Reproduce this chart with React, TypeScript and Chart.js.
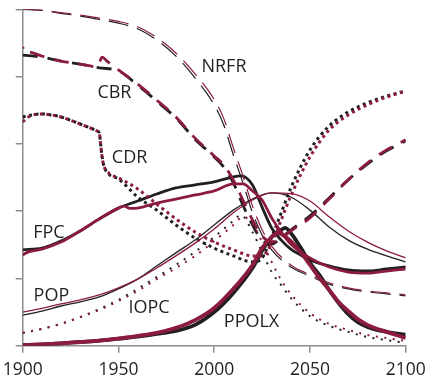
import { useEffect, useRef } from "react";
import { Chart, registerables } from "chart.js";

Chart.register(...registerables);

const INK = "#231f20";
const WINE = "#8c1c3e";
const AXIS = "#8c8c8c";
const FONT = "'Open Sans', 'Noto Sans', sans-serif";

const X_TICKS = [1900, 1950, 2000, 2050, 2100];
const Y_TICKS = [0, 20, 40, 60, 80, 100];

// Non-renewable resources fraction remaining
const NRFR_YEARS = [1900, 1910, 1920, 1930, 1940, 1950, 1960, 1970, 1980, 1990, 2000, 2005, 2010, 2015, 2020, 2025, 2030, 2040, 2050, 2060, 2070, 2080, 2090, 2100];
const NRFR_BLACK = [100, 99.7, 98.8, 98.0, 97.0, 95.9, 94.2, 90.9, 86.1, 79.6, 71.6, 65.6, 56.7, 48.4, 39.5, 32.9, 28.5, 23.4, 20.7, 18.3, 16.9, 16.0, 15.4, 14.8];
const NRFR_RED = [100, 99.8, 99.0, 98.3, 97.4, 96.4, 94.8, 91.6, 87.0, 80.8, 73.2, 67.5, 58.8, 50.5, 41.5, 34.5, 29.6, 24.0, 21.1, 18.7, 17.2, 16.3, 15.7, 15.1];

// Crude birth rate
const CBR_BLACK_YEARS = [1900, 1910, 1920, 1930, 1940, 1950, 1960, 1970, 1980, 1990, 2000, 2005, 2010, 2015, 2020, 2025, 2030, 2035, 2040, 2050, 2060, 2070, 2080, 2090, 2100];
const CBR_BLACK = [86.4, 85.8, 84.6, 83.7, 82.6, 81.7, 77.5, 72.7, 67.7, 61.4, 56.1, 53.1, 48.4, 41.8, 35.9, 31.4, 30.2, 32.0, 34.4, 38.6, 43.9, 49.3, 54.0, 57.9, 60.9];
const CBR_RED_YEARS = [1900, 1901, 1903, 1910, 1920, 1930, 1939, 1941.5, 1944, 1950, 1960, 1970, 1980, 1990, 2000, 2005, 2010, 2015, 2020, 2025, 2030, 2035, 2040, 2050, 2060, 2070, 2080, 2090, 2100];
const CBR_RED = [88.8, 87.0, 87.3, 86.1, 84.6, 83.7, 82.9, 85.8, 84.6, 82.0, 77.8, 73.0, 68.0, 61.7, 56.4, 53.7, 49.3, 43.3, 37.4, 32.6, 30.8, 32.0, 34.1, 38.0, 43.6, 49.3, 54.3, 58.2, 61.2];

// Crude death rate
const CDR_BLACK_YEARS = [1900, 1905, 1910, 1915, 1920, 1930, 1939, 1940, 1941, 1942, 1945, 1950, 1960, 1970, 1980, 1990, 2000, 2010, 2020, 2025, 2030, 2035, 2040, 2050, 2060, 2070, 2080, 2090, 2100];
const CDR_BLACK = [68.0, 68.6, 68.9, 68.6, 68.0, 65.9, 63.8, 63.2, 58.2, 54.3, 51.0, 49.6, 44.2, 40.3, 35.9, 32.0, 29.0, 26.7, 24.9, 26.1, 32.3, 39.5, 46.9, 58.2, 65.3, 69.5, 72.2, 74.2, 75.7];
const CDR_RED_YEARS = [1900, 1903, 1910, 1915, 1920, 1930, 1939, 1940, 1941, 1942, 1945, 1950, 1960, 1970, 1980, 1990, 2000, 2010, 2020, 2025, 2030, 2035, 2040, 2050, 2060, 2070, 2080, 2090, 2100];
const CDR_RED = [66.5, 68.0, 68.9, 68.6, 68.0, 65.9, 63.8, 63.2, 58.2, 54.3, 51.3, 49.9, 46.6, 42.1, 37.7, 33.8, 30.8, 28.5, 26.7, 26.7, 30.5, 37.4, 44.5, 56.1, 64.1, 68.6, 71.6, 73.9, 75.7];

// Food per capita
const FPC_BLACK_YEARS = [1900, 1910, 1920, 1930, 1940, 1950, 1960, 1970, 1980, 1990, 2000, 2010, 2014, 2020, 2025, 2030, 2035, 2040, 2045, 2050, 2060, 2070, 2080, 2090, 2100];
const FPC_BLACK = [28.5, 29.0, 31.1, 34.1, 37.7, 40.9, 43.0, 45.1, 46.9, 47.8, 48.7, 50.2, 50.5, 47.8, 41.2, 35.0, 31.4, 28.7, 27.0, 25.5, 23.7, 22.5, 22.2, 22.8, 23.4];
const FPC_RED_YEARS = [1900, 1903, 1910, 1920, 1930, 1940, 1950, 1953, 1956, 1960, 1970, 1980, 1990, 2000, 2010, 2015, 2020, 2025, 2030, 2035, 2040, 2045, 2050, 2060, 2070, 2080, 2090, 2100];
const FPC_RED = [27.0, 27.9, 28.7, 30.8, 34.1, 37.7, 40.9, 41.5, 40.8, 40.9, 42.4, 43.6, 44.8, 46.0, 48.1, 48.1, 46.0, 43.3, 38.0, 33.8, 30.2, 27.9, 26.1, 23.4, 21.9, 21.6, 22.2, 22.8];

// Population
const POP_YEARS = [1900, 1910, 1920, 1930, 1940, 1950, 1960, 1970, 1980, 1990, 2000, 2010, 2020, 2030, 2040, 2050, 2060, 2070, 2080, 2090, 2100];
const POP_BLACK = [9.1, 10.3, 11.8, 13.0, 14.5, 16.9, 19.8, 23.7, 27.6, 31.4, 35.9, 40.3, 43.6, 45.4, 44.2, 40.3, 35.3, 31.4, 28.7, 26.7, 24.9];
const POP_RED = [10.0, 11.1, 12.4, 13.6, 15.1, 17.2, 19.8, 23.1, 26.7, 30.5, 34.7, 39.5, 43.3, 45.4, 45.2, 43.0, 38.3, 34.1, 30.8, 28.2, 26.1];

// Industrial output per capita
const IOPC_BLACK_YEARS = [1900, 1910, 1920, 1930, 1940, 1950, 1960, 1970, 1980, 1990, 2000, 2010, 2014, 2020, 2025, 2030, 2035, 2040, 2050, 2060, 2070, 2080, 2090, 2100];
const IOPC_BLACK = [3.8, 5.0, 6.5, 8.5, 10.9, 13.6, 16.9, 20.4, 24.0, 27.9, 32.3, 37.1, 38.9, 33.8, 27.9, 21.9, 18.0, 14.2, 8.8, 5.9, 4.1, 2.6, 1.7, 0.8];
const IOPC_RED_YEARS = [1900, 1910, 1920, 1930, 1940, 1950, 1960, 1970, 1980, 1990, 2000, 2010, 2015, 2020, 2025, 2030, 2035, 2040, 2050, 2060, 2070, 2080, 2090, 2100];
const IOPC_RED = [3.8, 5.0, 6.5, 8.5, 10.6, 13.3, 16.3, 19.8, 23.1, 26.7, 31.1, 35.9, 38.3, 36.2, 30.8, 24.9, 19.5, 15.4, 9.7, 6.5, 4.7, 3.2, 2.3, 1.4];

// Persistent pollution index
const PPOLX_BLACK_YEARS = [1900, 1910, 1920, 1930, 1940, 1950, 1960, 1970, 1980, 1990, 2000, 2010, 2020, 2025, 2030, 2035, 2037, 2040, 2045, 2050, 2055, 2060, 2065, 2070, 2075, 2080, 2090, 2100];
const PPOLX_BLACK = [0.2, 0.4, 0.7, 1.1, 1.5, 2.1, 2.7, 3.5, 4.4, 6.2, 10.0, 15.7, 23.1, 28.2, 32.3, 34.4, 35.0, 33.5, 29.3, 24.6, 21.0, 16.6, 12.7, 9.4, 7.0, 5.6, 4.1, 3.2];
const PPOLX_RED_YEARS = [1900, 1910, 1920, 1930, 1940, 1950, 1960, 1970, 1980, 1990, 2000, 2010, 2020, 2025, 2030, 2033, 2035, 2040, 2045, 2050, 2055, 2060, 2065, 2070, 2075, 2080, 2090, 2100];
const PPOLX_RED = [0.2, 0.4, 0.7, 1.1, 1.5, 2.1, 2.9, 3.8, 5.3, 7.6, 11.2, 16.9, 24.0, 29.0, 32.3, 33.5, 33.2, 31.1, 27.9, 24.0, 20.1, 16.6, 13.0, 10.3, 7.9, 6.2, 4.1, 2.3];

// Series names written next to their curves, anchored at (year, value)
const LABELS = ["NRFR", "CBR", "CDR", "FPC", "POP", "IOPC", "PPOLX"];
const LABEL_YEARS = [2005.1, 1947.9, 1955.8, 1913.7, 1915.0, 1966.0, 2019.5];
const LABEL_VALUES = [83.4, 75.6, 56.2, 34.0, 15.2, 11.7, 7.6];

type Style = { width: number; dash: number[]; offset?: number };

const points = (years: number[], values: number[]) =>
  years.map((x, i) => ({ x, y: values[i] }));

const line = (
  years: number[],
  values: number[],
  color: string,
  style: Style,
  order: number
) => ({
  data: points(years, values),
  borderColor: color,
  borderWidth: style.width,
  borderDash: style.dash,
  borderDashOffset: style.offset ?? 0,
  borderCapStyle: "butt" as const,
  borderJoinStyle: "round" as const,
  pointRadius: 0,
  fill: false,
  cubicInterpolationMode: "monotone" as const,
  order,
});

const NRFR_STYLE: Style = { width: 1.2, dash: [20, 9] };
const CBR_STYLE: Style = { width: 2.8, dash: [15, 10] };
const CDR_STYLE: Style = { width: 3, dash: [3, 3.5] };
const FPC_STYLE: Style = { width: 2.8, dash: [] };
const POP_STYLE: Style = { width: 1.3, dash: [] };
const IOPC_STYLE: Style = { width: 2, dash: [2, 6.5] };
const PPOLX_STYLE: Style = { width: 3.8, dash: [] };

const seriesLabels = {
  id: "seriesLabels",
  afterDatasetsDraw(chart: Chart) {
    const { ctx } = chart;
    const xs = chart.scales.x;
    const ys = chart.scales.y;
    ctx.save();
    ctx.font = `18px ${FONT}`;
    ctx.fillStyle = INK;
    ctx.textAlign = "center";
    ctx.textBaseline = "alphabetic";
    LABELS.forEach((text, i) => {
      const m = ctx.measureText(text);
      const cx = xs.getPixelForValue(LABEL_YEARS[i]);
      const cy = ys.getPixelForValue(LABEL_VALUES[i]);
      ctx.fillText(
        text,
        cx,
        cy + (m.actualBoundingBoxAscent - m.actualBoundingBoxDescent) / 2
      );
    });
    ctx.restore();
  },
};

export default function App() {
  const ref = useRef<HTMLCanvasElement>(null);

  useEffect(() => {
    if (!ref.current) return;
    const chart = new Chart(ref.current, {
      type: "line",
      data: {
        datasets: [
          line(NRFR_YEARS, NRFR_BLACK, INK, NRFR_STYLE, 2),
          line(CBR_BLACK_YEARS, CBR_BLACK, INK, CBR_STYLE, 2),
          line(CDR_BLACK_YEARS, CDR_BLACK, INK, CDR_STYLE, 2),
          line(FPC_BLACK_YEARS, FPC_BLACK, INK, FPC_STYLE, 2),
          line(POP_YEARS, POP_BLACK, INK, POP_STYLE, 2),
          line(IOPC_BLACK_YEARS, IOPC_BLACK, INK, IOPC_STYLE, 2),
          line(PPOLX_BLACK_YEARS, PPOLX_BLACK, INK, PPOLX_STYLE, 2),
          line(NRFR_YEARS, NRFR_RED, WINE, NRFR_STYLE, 1),
          line(CBR_RED_YEARS, CBR_RED, WINE, { ...CBR_STYLE, offset: 13 }, 1),
          line(CDR_RED_YEARS, CDR_RED, WINE, CDR_STYLE, 1),
          line(FPC_RED_YEARS, FPC_RED, WINE, FPC_STYLE, 1),
          line(POP_YEARS, POP_RED, WINE, POP_STYLE, 1),
          line(IOPC_RED_YEARS, IOPC_RED, WINE, IOPC_STYLE, 1),
          line(PPOLX_RED_YEARS, PPOLX_RED, WINE, PPOLX_STYLE, 1),
        ],
      },
      options: {
        animation: false,
        responsive: false,
        devicePixelRatio: 1,
        layout: { padding: { left: 0, right: 21.3, top: 9.3, bottom: 0 } },
        plugins: {
          legend: { display: false },
          tooltip: { enabled: false },
        },
        scales: {
          x: {
            type: "linear",
            min: 1900,
            max: 2100,
            afterBuildTicks: (scale: any) => {
              scale.ticks = X_TICKS.map((value) => ({ value }));
            },
            afterFit: (scale: any) => {
              scale.height = 38.3;
              scale.paddingLeft = 0;
              scale.paddingRight = 0;
            },
            ticks: {
              autoSkip: false,
              maxRotation: 0,
              padding: 7,
              color: INK,
              font: { family: FONT, size: 17.5 },
              callback: (v: any) => String(v),
            },
            grid: {
              drawOnChartArea: false,
              drawTicks: true,
              tickLength: 7,
              color: AXIS,
              lineWidth: 1.5,
            },
            border: { display: true, color: AXIS, width: 1.5 },
          },
          y: {
            min: 0,
            max: 100,
            afterBuildTicks: (scale: any) => {
              scale.ticks = Y_TICKS.map((value) => ({ value }));
            },
            afterFit: (scale: any) => {
              scale.width = 22.7;
              scale.paddingTop = 0;
              scale.paddingBottom = 0;
            },
            ticks: { display: false },
            grid: {
              drawOnChartArea: false,
              drawTicks: true,
              tickLength: 7,
              color: AXIS,
              lineWidth: 1.5,
            },
            border: { display: true, color: AXIS, width: 1.5 },
          },
        },
      },
      plugins: [seriesLabels],
    } as any);
    return () => chart.destroy();
  }, []);

  return (
    <div
      style={{
        position: "absolute",
        left: 0,
        top: 0,
        width: 427,
        height: 384,
        background: "#fff",
      }}
    >
      <canvas
        ref={ref}
        width={427}
        height={384}
        style={{ display: "block", width: 427, height: 384 }}
      />
    </div>
  );
}
